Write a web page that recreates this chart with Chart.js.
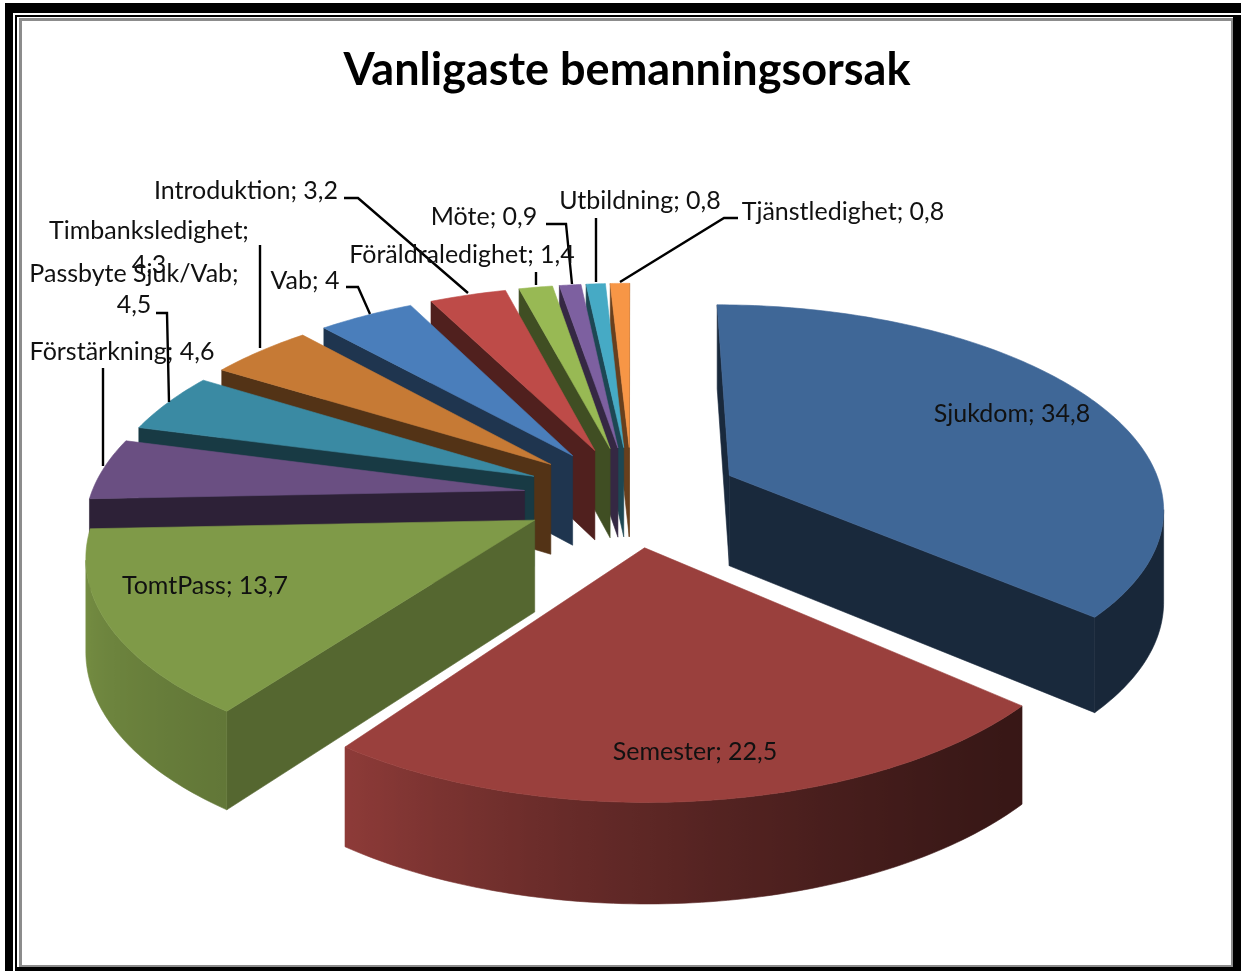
<!DOCTYPE html>
<html><head><meta charset="utf-8">
<style>html,body{margin:0;padding:0;background:#fff;overflow:hidden}canvas{display:block}</style>
<script src="https://cdn.jsdelivr.net/npm/chart.js@4"></script>
</head><body>
<canvas id="c" width="1241" height="971"></canvas>
<script>
const categories = ["Sjukdom","Semester","TomtPass","Förstärkning","Passbyte Sjuk/Vab","Timbanksledighet","Vab","Introduktion","Föräldraledighet","Möte","Utbildning","Tjänstledighet"];
const values = [34.8,22.5,13.7,4.6,4.5,4.3,4,3.2,1.4,0.9,0.8,0.8];
const sliceColors = ["#3f6797","#9a403d","#7f9a48","#6a4f82","#3a8aa3","#c67a35","#4a7ebb","#be4b48","#98b954","#7d60a0","#46aac5","#f79646"];
const titleText = "Vanligaste bemanningsorsak";

// Look of the 3D projection
const view = {cx:632, cy:496, sx:434, sy:201, k:0.145, explode:0.25, depth:91};
const wallFrom = [.36,.36,.77,.45,.45,.45,.45,.45,.45,.45,.45,.45];
const wallTo   = [.38,.92,.95,.5,.5,.5,.5,.5,.5,.5,.5,.5];
const faceShade= [.40,.42,.67,.42,.42,.42,.42,.42,.42,.42,.42,.42];

// Label layout: [centre x, first baseline, split-after-semicolon], leader polyline
const labelLayout = [
 {x:1012,y:422},{x:695,y:760},{x:205,y:594},
 {x:122,y:360,line:[[103,368],[103,466]]},
 {x:134,y:282,split:true,gap:31,line:[[156,313],[167,313],[169,402]]},
 {x:149,y:239,split:true,gap:34,line:[[260,245],[260,348]]},
 {x:305,y:289,line:[[346,287],[358,287],[370,314]]},
 {x:246,y:199,line:[[344,198],[358,198],[468,293]]},
 {x:462,y:263,line:[[536,272],[536,285]]},
 {x:484,y:225,line:[[546,224],[566,224],[572,284]]},
 {x:640,y:209,line:[[596,218],[596,282]]},
 {x:843,y:220,line:[[738,218],[724,218],[620,282]]}
];

function shade(hex,f){
  const n=parseInt(hex.slice(1),16);
  return `rgb(${Math.round((n>>16&255)*f)},${Math.round((n>>8&255)*f)},${Math.round((n&255)*f)})`;
}
function project(u,v,z){
  const w=1/(1-view.k*v);
  return [view.cx+view.sx*u*w, view.cy+view.sy*v*w+z*view.depth*Math.pow(w,0.55)];
}
function quad(ctx,p,fill){
  ctx.beginPath();p.forEach((q,i)=>i?ctx.lineTo(q[0],q[1]):ctx.moveTo(q[0],q[1]));ctx.closePath();
  ctx.fillStyle=fill;ctx.strokeStyle=fill;ctx.lineWidth=0.6;ctx.fill();ctx.stroke();
}
function facing(p){
  const ax=p[1][0]-p[0][0],ay=p[1][1]-p[0][1],bx=p[2][0]-p[1][0],by=p[2][1]-p[1][1];
  return ax*by-ay*bx<0;
}
const pie3d = {
  id:'pie3d',
  beforeDraw(chart){
    const c=chart.ctx;
    c.save();
    c.fillStyle='#fff';c.fillRect(0,0,1241,971);
    c.fillStyle='#000';
    c.fillRect(5,3,1236,968);
    c.fillStyle='#fff';c.fillRect(13,13,1228,958);
    c.fillStyle='#000';c.fillRect(15,15,1226,956);
    c.fillStyle='#fff';c.fillRect(17,17,1216,950);
    c.fillStyle='#8c8c8c';c.fillRect(19,18,1214,949);
    c.fillStyle='#fff';c.fillRect(22,21,1209,944);
    c.restore();
  },
  beforeDatasetsDraw(chart){
    const c=chart.ctx, arcs=chart.getDatasetMeta(0).data;
    const slices=arcs.map((el,i)=>{
      const a0=el.startAngle+Math.PI/2,a1=el.endAngle+Math.PI/2,m=(a0+a1)/2;
      return {i,a0,a1,m,ox:view.explode*Math.sin(m),oy:-view.explode*Math.cos(m),color:el.options.backgroundColor};
    });
    slices.sort((s,t)=>(s.oy-0.6*Math.cos(s.m))-(t.oy-0.6*Math.cos(t.m)));
    slices.forEach(s=>{
      const rim=(a,z)=>project(s.ox+Math.sin(a),s.oy-Math.cos(a),z);
      const apex=z=>project(s.ox,s.oy,z);
      const start=[apex(0),rim(s.a0,0),rim(s.a0,1),apex(1)];
      const end=[rim(s.a1,0),apex(0),apex(1),rim(s.a1,1)];
      const fc=shade(s.color,faceShade[s.i]);
      if(facing(start))quad(c,start,fc);
      if(facing(end))quad(c,end,fc);
      const n=Math.max(12,Math.ceil((s.a1-s.a0)*60));
      const visible=[];
      for(let j=0;j<n;j++){
        const a=s.a0+(s.a1-s.a0)*j/n,b=s.a0+(s.a1-s.a0)*(j+1)/n;
        if(facing([rim(a,0),rim(b,0),rim(b,1),rim(a,1)]))visible.push(j);
      }
      if(visible.length){
        const ang=j=>s.a0+(s.a1-s.a0)*j/n;
        const j0=visible[0],j1=visible[visible.length-1]+1;
        const poly=[];
        for(let j=j0;j<=j1;j++)poly.push(rim(ang(j),0));
        for(let j=j1;j>=j0;j--)poly.push(rim(ang(j),1));
        const x0=rim(ang(j0),0)[0],x1=rim(ang(j1),0)[0];
        const g=c.createLinearGradient(x0,0,x1,0);
        for(let j=j0;j<=j1;j++){
          const pos=Math.max(0,Math.min(1,(rim(ang(j),0)[0]-x0)/((x1-x0)||1)));
          const tt=s.i===1?Math.pow(j/n,1.5):j/n;
          g.addColorStop(pos,shade(s.color,wallFrom[s.i]+(wallTo[s.i]-wallFrom[s.i])*tt));
        }
        quad(c,poly,g);
      }
      const top=[apex(0)];
      for(let j=0;j<=n;j++)top.push(rim(s.a0+(s.a1-s.a0)*j/n,0));
      quad(c,top,s.color);
    });
    return false;
  },
  afterDraw(chart){
    const c=chart.ctx;
    c.save();
    c.strokeStyle='#000';c.lineWidth=2.4;c.lineJoin='miter';
    labelLayout.forEach(l=>{
      if(!l.line)return;
      c.beginPath();l.line.forEach((q,i)=>i?c.lineTo(q[0],q[1]):c.moveTo(q[0],q[1]));c.stroke();
    });
    c.fillStyle='#111';c.font='25px Lato';c.textAlign='center';c.textBaseline='alphabetic';
    labelLayout.forEach((l,i)=>{
      const val=String(values[i]).replace('.',',');
      if(l.split){
        c.fillText(categories[i]+';',l.x,l.y);
        c.fillText(val,l.x,l.y+l.gap);
      } else c.fillText(categories[i]+'; '+val,l.x,l.y);
    });
    c.restore();
  }
};
new Chart(document.getElementById('c'),{
  type:'pie',
  data:{labels:categories,datasets:[{data:values,backgroundColor:sliceColors,borderWidth:0}]},
  options:{
    responsive:false,animation:false,rotation:0,
    layout:{padding:{left:13}},
    plugins:{
      legend:{display:false},tooltip:{enabled:false},
      title:{display:true,text:titleText,color:'#000',font:{family:'Lato',size:45,weight:'bold'},padding:{top:43,bottom:10}}
    }
  },
  plugins:[pie3d]
});
</script>
</body></html>
